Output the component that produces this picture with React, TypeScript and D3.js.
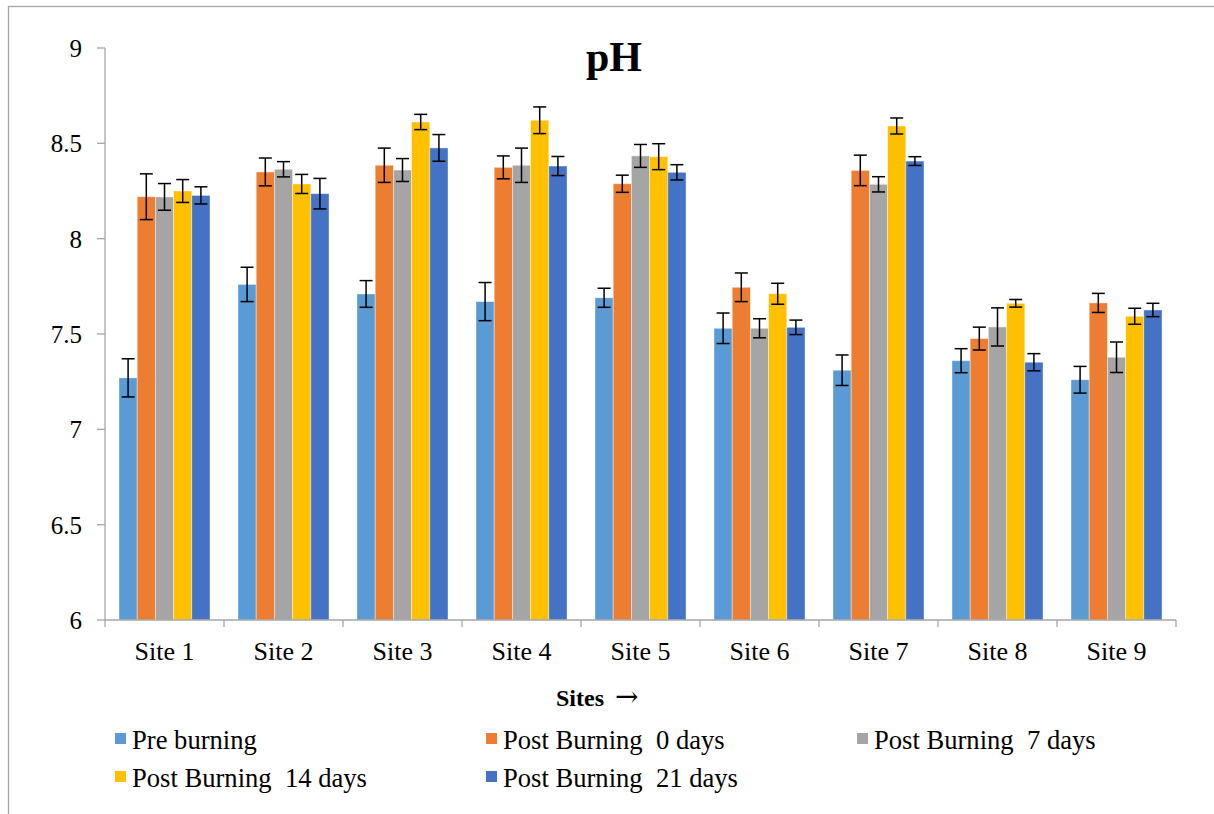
import React from "react";
import * as d3 from "d3";

const sites = ["Site 1", "Site 2", "Site 3", "Site 4", "Site 5", "Site 6", "Site 7", "Site 8", "Site 9"];
const seriesNames = [
  "Pre burning",
  "Post Burning  0 days",
  "Post Burning  7 days",
  "Post Burning  14 days",
  "Post Burning  21 days",
];
const seriesColors = ["#5B9BD5", "#ED7D31", "#A5A5A5", "#FFC000", "#4472C4"];

const preBurning = [7.27, 7.76, 7.71, 7.67, 7.69, 7.53, 7.31, 7.36, 7.26];
const preBurningErr = [0.1, 0.09, 0.07, 0.1, 0.05, 0.08, 0.08, 0.063, 0.07];
const post0 = [8.22, 8.35, 8.385, 8.374, 8.288, 7.745, 8.358, 7.476, 7.663];
const post0Err = [0.12, 0.073, 0.09, 0.06, 0.045, 0.075, 0.08, 0.06, 0.05];
const post7 = [8.219, 8.364, 8.36, 8.385, 8.434, 7.53, 8.285, 7.537, 7.378];
const post7Err = [0.07, 0.04, 0.06, 0.09, 0.06, 0.05, 0.04, 0.1, 0.08];
const post14 = [8.25, 8.287, 8.612, 8.621, 8.43, 7.711, 8.591, 7.661, 7.593];
const post14Err = [0.06, 0.05, 0.04, 0.07, 0.068, 0.055, 0.042, 0.02, 0.042];
const post21 = [8.227, 8.236, 8.476, 8.381, 8.348, 7.535, 8.407, 7.352, 7.626];
const post21Err = [0.045, 0.08, 0.07, 0.05, 0.04, 0.038, 0.023, 0.045, 0.035];

const seriesValues = [preBurning, post0, post7, post14, post21];
const seriesErrors = [preBurningErr, post0Err, post7Err, post14Err, post21Err];

const yTicks = [6, 6.5, 7, 7.5, 8, 8.5, 9];

const W = 1214;
const H = 814;
const serif = "'Liberation Serif', 'Times New Roman', 'DejaVu Serif', serif";
const axisColor = "#A6A6A6";

export default function App() {
  const plotLeft = 105;
  const plotRight = 1176;
  const plotTop = 48;
  const plotBottom = 620;

  const y = d3.scaleLinear().domain([6, 9]).range([plotBottom, plotTop]);
  const x0 = d3.scaleBand<string>().domain(sites).range([plotLeft, plotRight]).padding(0);
  const bw = x0.bandwidth();
  const gap = bw * 0.1176;
  const x1 = d3.scaleBand<string>().domain(seriesNames).range([gap, bw - gap]).padding(0);
  const barW = x1.bandwidth();
  const capHalf = 6.5;

  const legendItems = [
    { name: seriesNames[0], color: seriesColors[0], lx: 115, ly: 740 },
    { name: seriesNames[1], color: seriesColors[1], lx: 486, ly: 740 },
    { name: seriesNames[2], color: seriesColors[2], lx: 857, ly: 740 },
    { name: seriesNames[3], color: seriesColors[3], lx: 115, ly: 778 },
    { name: seriesNames[4], color: seriesColors[4], lx: 486, ly: 778 },
  ];

  const tStyle = { fontFamily: serif } as React.CSSProperties;

  return (
    <svg
      width={W}
      height={H}
      style={{ position: "absolute", left: 0, top: 0, background: "#fff" }}
    >
      <rect x={0} y={0} width={W} height={H} fill="#fff" />
      <rect x={8.5} y={6.5} width={1230} height={830} fill="none" stroke={axisColor} strokeWidth={1.3} />

      {/* Title */}
      <text x={614} y={71} textAnchor="middle" fontSize={42} fontWeight="bold" fill="#000" style={tStyle}>
        pH
      </text>

      {/* Y axis */}
      <line x1={plotLeft} x2={plotLeft} y1={plotTop} y2={plotBottom} stroke={axisColor} strokeWidth={1.3} />
      {yTicks.map((t) => (
        <g key={t}>
          <line x1={plotLeft - 8} x2={plotLeft} y1={y(t)} y2={y(t)} stroke={axisColor} strokeWidth={1.3} />
          <text x={82} y={y(t) + 9} textAnchor="end" fontSize={25} fill="#000" style={tStyle}>
            {d3.format("")(t)}
          </text>
        </g>
      ))}

      {/* Bars */}
      {sites.map((s, i) => (
        <g key={s} transform={`translate(${x0(s)},0)`}>
          {seriesNames.map((name, k) => {
            const v = seriesValues[k][i];
            const bx = x1(name)!;
            return (
              <rect
                key={name}
                x={bx}
                y={y(v)}
                width={barW}
                height={y(6) - y(v)}
                fill={seriesColors[k]}
                stroke="#ffffff"
                strokeOpacity={0.5}
                strokeWidth={0.8}
              />
            );
          })}
          {seriesNames.map((name, k) => {
            const v = seriesValues[k][i];
            const e = seriesErrors[k][i];
            const cx = x1(name)! + barW / 2;
            return (
              <g key={name + "-err"} stroke="#000" strokeWidth={1.5}>
                <line x1={cx} x2={cx} y1={y(v + e)} y2={y(v - e)} />
                <line x1={cx - capHalf} x2={cx + capHalf} y1={y(v + e)} y2={y(v + e)} />
                <line x1={cx - capHalf} x2={cx + capHalf} y1={y(v - e)} y2={y(v - e)} />
              </g>
            );
          })}
        </g>
      ))}

      {/* X axis */}
      <line x1={plotLeft} x2={plotRight} y1={plotBottom} y2={plotBottom} stroke={axisColor} strokeWidth={1.3} />
      {sites.map((s) => (
        <line
          key={s + "-tick"}
          x1={x0(s)!}
          x2={x0(s)!}
          y1={plotBottom}
          y2={plotBottom + 7}
          stroke={axisColor}
          strokeWidth={1.3}
        />
      ))}
      <line x1={plotRight} x2={plotRight} y1={plotBottom} y2={plotBottom + 7} stroke={axisColor} strokeWidth={1.3} />
      {sites.map((s) => (
        <text key={s + "-lbl"} x={x0(s)! + bw / 2} y={660} textAnchor="middle" fontSize={26} fill="#000" style={tStyle}>
          {s}
        </text>
      ))}

      {/* X axis title */}
      <text x={556} y={706} fontSize={24} fontWeight="bold" fill="#000" style={tStyle}>
        Sites
      </text>
      <text x={615} y={706} fontSize={28} fill="#000" style={{ fontFamily: "'DejaVu Serif', serif" }}>
        →
      </text>

      {/* Legend */}
      {legendItems.map((it) => (
        <g key={it.name}>
          <rect x={it.lx} y={it.ly - 7} width={11} height={11} fill={it.color} />
          <text
            x={it.lx + 17}
            y={it.ly + 9}
            fontSize={26.6}
            fill="#000"
            style={{ fontFamily: serif, whiteSpace: "pre" }}
          >
            {it.name}
          </text>
        </g>
      ))}
    </svg>
  );
}
